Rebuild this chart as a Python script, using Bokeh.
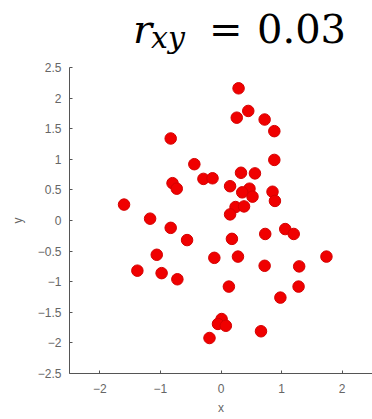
from bokeh.plotting import figure
from bokeh.layouts import column
from bokeh.models import ColumnDataSource, FixedTicker, Div
from bokeh.embed import file_html
from bokeh.resources import INLINE

# Sample values (x, y)
xs = [0.29, 0.26, 0.45, 0.72, 0.88, -0.83, 0.88, -0.44, 0.33, 0.56,
      -0.29, -0.14, -0.80, -0.73, 0.15, 0.47, 0.35, 0.52, 0.85, 0.89,
      -1.60, 0.24, 0.38, 0.15, -1.17, -0.83, 1.06, 1.20, 0.73, -0.56,
      0.18, -1.06, -0.11, 0.28, 1.74, 0.72, 1.29, -1.38, -0.98, -0.72,
      0.13, 1.28, 0.98, 0.01, -0.05, 0.08, 0.66, -0.19]
ys = [2.16, 1.68, 1.79, 1.65, 1.46, 1.34, 0.99, 0.92, 0.78, 0.77,
      0.68, 0.69, 0.61, 0.52, 0.56, 0.52, 0.46, 0.39, 0.47, 0.32,
      0.26, 0.22, 0.23, 0.10, 0.03, -0.12, -0.14, -0.22, -0.22, -0.32,
      -0.30, -0.56, -0.61, -0.59, -0.59, -0.74, -0.75, -0.82, -0.86, -0.96,
      -1.08, -1.08, -1.26, -1.61, -1.69, -1.72, -1.81, -1.92]

r_xy = "0.03"
x_ticks = [-2, -1, 0, 1, 2]
y_ticks = [-2.5, -2, -1.5, -1, -0.5, 0, 0.5, 1, 1.5, 2, 2.5]


def label_for(v):
    return ("%g" % v).replace("-", "\u2212")


W = 372
HEAD_H = 59

# Heading: correlation coefficient r_xy set in a serif face
span = ("position:absolute;line-height:1;white-space:nowrap;"
        "font-family:'DejaVu Serif',serif;color:black;")
heading_html = (
    f'<div style="position:relative;width:{W}px;height:{HEAD_H}px;">'
    f'<span style="{span}left:133px;top:9px;font-size:40px;font-style:italic;">r</span>'
    f'<span style="{span}left:151px;top:23px;font-size:30px;font-style:italic;">xy</span>'
    f'<span style="{span}left:209px;top:9px;font-size:40px;">=</span>'
    f'<span style="{span}left:257px;top:9px;font-size:40px;">{r_xy}</span>'
    '</div>'
)
head = Div(text=heading_html, width=W, height=HEAD_H, margin=0)

source = ColumnDataSource(data=dict(x=xs, y=ys))

p = figure(width=W, height=419 - HEAD_H, x_range=(-2.5, 2.5), y_range=(-2.5, 2.5),
           output_backend="svg", toolbar_location=None,
           min_border_left=69, min_border_right=0,
           min_border_top=8, min_border_bottom=46)
p.outline_line_color = None
p.grid.visible = False

p.scatter("x", "y", source=source, size=11.5, fill_color="#f00000",
          line_color="#d40000", line_width=1)

for ax, ticks in ((p.xaxis[0], x_ticks), (p.yaxis[0], y_ticks)):
    ax.ticker = FixedTicker(ticks=ticks)
    ax.minor_tick_line_color = None
    ax.major_tick_in = 3
    ax.major_tick_out = 0
    ax.axis_line_color = "#555555"
    ax.major_tick_line_color = "#555555"
    ax.major_label_text_color = "#666666"
    ax.major_label_text_font = "Liberation Sans"
    ax.major_label_text_font_size = "12px"
    ax.axis_label_text_font = "Liberation Sans"
    ax.axis_label_text_font_style = "normal"
    ax.axis_label_text_color = "#666666"
    ax.axis_label_text_font_size = "12px"
    ax.major_label_overrides = {t: label_for(t) for t in ticks}

p.xaxis.axis_label = "x"
p.yaxis.axis_label = "y"
p.xaxis.major_label_standoff = 10
p.xaxis.axis_label_standoff = 5
p.yaxis.major_label_standoff = 8
p.yaxis.axis_label_standoff = 10

layout = column(head, p, spacing=0)
open("out.html", "w").write(file_html(layout, INLINE))
